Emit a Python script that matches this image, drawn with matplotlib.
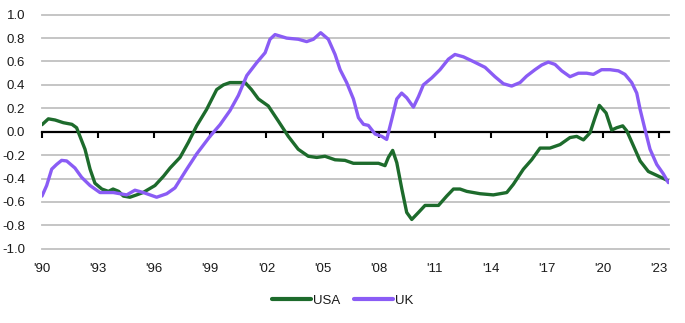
import matplotlib
matplotlib.use("Agg")
import matplotlib.pyplot as plt
import numpy as np

plt.rcParams['font.family'] = ['Liberation Sans', 'DejaVu Sans']

# series sampled as (year, value)
usa_years = [1990.0, 1990.34, 1990.7, 1991.14, 1991.6, 1991.85, 1992.3, 1992.57, 1992.83,
             1993.2, 1993.55, 1993.8, 1994.1, 1994.35, 1994.7, 1995.06, 1995.4, 1996.04,
             1996.5, 1996.85, 1997.38, 1997.83, 1998.27, 1998.8, 1999.34, 1999.7, 2000.05,
             2000.5, 2000.86, 2001.2, 2001.57, 2002.1, 2002.64, 2003.17, 2003.7, 2004.24,
             2004.69, 2005.13, 2005.67, 2006.2, 2006.65, 2007.36, 2007.99, 2008.34, 2008.52,
             2008.75, 2008.97, 2009.24, 2009.5, 2009.77, 2010.13, 2010.48, 2011.2, 2011.64,
             2012.0, 2012.35, 2012.71, 2013.42, 2014.13, 2014.85, 2015.2, 2015.74, 2016.18,
             2016.63, 2017.16, 2017.7, 2018.23, 2018.59, 2018.95, 2019.3, 2019.57, 2019.8,
             2020.16, 2020.46, 2020.73, 2021.05, 2021.27, 2021.62, 2021.98, 2022.42, 2022.96,
             2023.49]
usa_values = [0.06, 0.11, 0.10, 0.077, 0.063, 0.034, -0.15, -0.32, -0.44,
              -0.49, -0.51, -0.49, -0.51, -0.55, -0.56, -0.54, -0.52, -0.46,
              -0.38, -0.31, -0.22, -0.09, 0.05, 0.19, 0.36, 0.40, 0.42,
              0.42, 0.42, 0.36, 0.28, 0.22, 0.09, -0.04, -0.15, -0.21,
              -0.22, -0.21, -0.24, -0.245, -0.27, -0.27, -0.27, -0.29, -0.22,
              -0.16, -0.265, -0.49, -0.69, -0.75, -0.69, -0.63, -0.63, -0.55,
              -0.49, -0.49, -0.51, -0.53, -0.54, -0.52, -0.45, -0.32, -0.24,
              -0.14, -0.14, -0.11, -0.05, -0.04, -0.07, -0.01, 0.12, 0.225,
              0.16, 0.014, 0.034, 0.05, 0.006, -0.12, -0.25, -0.34, -0.38,
              -0.42]

uk_years = [1990.0, 1990.25, 1990.52, 1990.78, 1991.05, 1991.32, 1991.76, 1992.12, 1992.57,
            1993.1, 1993.81, 1994.53, 1994.97, 1995.42, 1996.13, 1996.67, 1997.11, 1997.74,
            1998.27, 1998.98, 1999.52, 2000.05, 2000.5, 2000.95, 2001.48, 2001.93, 2002.19,
            2002.46, 2003.08, 2003.71, 2004.15, 2004.51, 2004.9, 2005.31, 2005.67, 2005.94,
            2006.29, 2006.65, 2006.92, 2007.19, 2007.45, 2007.81, 2008.17, 2008.43, 2008.7,
            2008.97, 2009.23, 2009.5, 2009.86, 2010.13, 2010.39, 2010.84, 2011.28, 2011.73,
            2012.08, 2012.53, 2013.06, 2013.69, 2014.22, 2014.67, 2015.11, 2015.56, 2015.91,
            2016.36, 2016.72, 2017.07, 2017.43, 2017.79, 2018.23, 2018.68, 2019.12, 2019.48,
            2019.92, 2020.37, 2020.82, 2021.17, 2021.53, 2021.8, 2021.98, 2022.24, 2022.51,
            2022.87, 2023.22, 2023.49]
uk_values = [-0.55, -0.46, -0.32, -0.28, -0.245, -0.25, -0.31, -0.39, -0.46,
             -0.52, -0.52, -0.54, -0.50, -0.52, -0.56, -0.53, -0.48, -0.32,
             -0.19, -0.04, 0.06, 0.18, 0.31, 0.48, 0.59, 0.675, 0.79,
             0.83, 0.80, 0.79, 0.77, 0.79, 0.846, 0.79, 0.66, 0.53,
             0.42, 0.28, 0.12, 0.063, 0.054, -0.02, -0.04, -0.066, 0.105,
             0.28, 0.33, 0.29, 0.21, 0.30, 0.40, 0.46, 0.53, 0.62,
             0.66, 0.64, 0.60, 0.55, 0.47, 0.41, 0.39, 0.42, 0.475,
             0.53, 0.57, 0.595, 0.575, 0.52, 0.47, 0.50, 0.50, 0.49,
             0.53, 0.53, 0.52, 0.49, 0.42, 0.33, 0.19, 0.02, -0.15,
             -0.28, -0.36, -0.435]

x_ticks = list(range(1990, 2024, 3))
x_labels = ["'" + str(y)[2:] for y in x_ticks]
y_ticks = [1.0, 0.8, 0.6, 0.4, 0.2, 0.0, -0.2, -0.4, -0.6, -0.8, -1.0]

fig = plt.figure(figsize=(6.85, 3.23), dpi=100)
ax = fig.add_axes([0.0613, 0.230, 0.9155, 0.7245])

text_color = '#1a1a1a'
for y in y_ticks:
    if y != 0:
        ax.axhline(y, color='#c0c0c0', lw=1.3, zorder=1, clip_on=False)

ax.plot(usa_years, usa_values, color='#1d6b2c', lw=2.4, label='USA', zorder=3,
        solid_capstyle='round', solid_joinstyle='round')
ax.plot(uk_years, uk_values, color='#8a5cf5', lw=2.4, label='UK', zorder=3,
        solid_capstyle='round', solid_joinstyle='round')

ax.set_xlim(1990, 2023.53)
ax.set_ylim(-1.0, 1.0)
ax.set_yticks(y_ticks)
ax.set_yticklabels([f'{v:.1f}' for v in y_ticks])
ax.set_xticks(x_ticks)
ax.set_xticklabels(x_labels)
ax.tick_params(axis='both', length=0, labelsize=9.5, colors=text_color)
ax.tick_params(axis='y', pad=12)
ax.tick_params(axis='x', pad=10)
for s in ax.spines.values():
    s.set_visible(False)

# zero line with year ticks hanging below it
zero = ax.secondary_xaxis(0.5)
zero.set_alignment('bottom')
zero.set_xticks(x_ticks)
zero.tick_params(direction='out', length=4.5, width=1.5, color='black',
                 labeltop=False, labelbottom=False)
zero.spines['bottom'].set_linewidth(1.6)
zero.spines['bottom'].set_color('black')
zero.set_zorder(2)

leg = fig.legend(loc='center', bbox_to_anchor=(0.5, 0.07), ncol=2, frameon=False,
                 handlelength=3.0, handletextpad=0.15, columnspacing=1.0,
                 fontsize=9.5)
for line in leg.get_lines():
    line.set_linewidth(3.0)
for t in leg.get_texts():
    t.set_color(text_color)

fig.savefig('out.png', dpi=100)
